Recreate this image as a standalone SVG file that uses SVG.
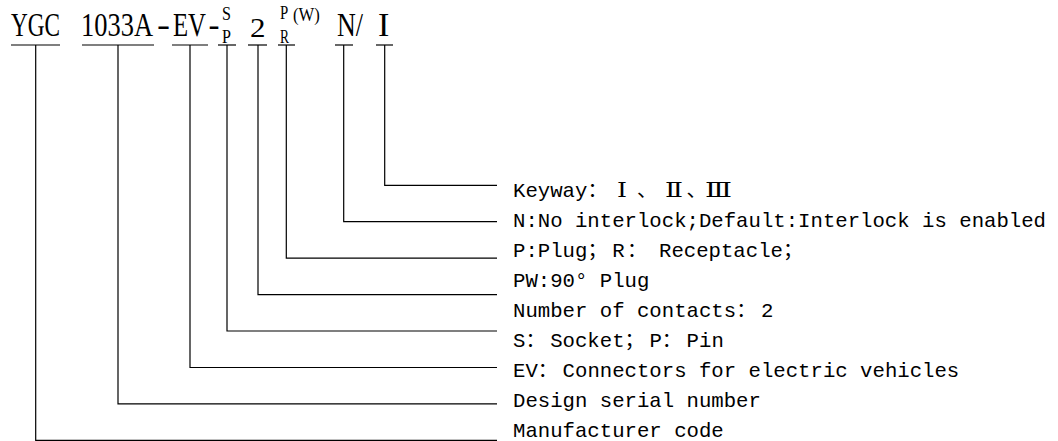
<svg xmlns="http://www.w3.org/2000/svg" width="1058" height="441" viewBox="0 0 1058 441">
<style>
.code{font-family:"Liberation Serif",serif;font-size:34px;fill:#000}
.sm{font-family:"Liberation Serif",serif;font-size:18.5px;fill:#000}
.lbl{font-family:"Liberation Mono",monospace;font-size:20.67px;fill:#000}
.cjk{font-family:"Noto Sans CJK SC",sans-serif;font-size:20px;fill:#000}
.rom{font-family:"Liberation Serif","DejaVu Serif","Noto Sans CJK SC",serif;font-size:20px;fill:#000}
.ul{stroke:#000;stroke-width:1.2;fill:none}
.con{stroke:#000;stroke-width:1.2;fill:none}
</style>
<rect width="1058" height="441" fill="#fff"/>
<g id="code-ygc">
<text class="code" transform="translate(11,36) scale(0.683,1)">YGC</text>
<line class="ul" x1="11" y1="45" x2="60" y2="45"/>
</g>
<g id="code-1033a">
<text class="code" transform="translate(81,36) scale(0.778,1)">1033A</text>
<line class="ul" x1="82" y1="45" x2="154" y2="45"/>
</g>
<g id="code-dash1"><text class="code" transform="translate(157,36) scale(1.15,1)">-</text></g>
<g id="code-ev">
<text class="code" transform="translate(173,36) scale(0.728,1)">EV</text>
<line class="ul" x1="172" y1="45" x2="208" y2="45"/>
</g>
<g id="code-dash2"><text class="code" transform="translate(208.5,36) scale(0.97,1)">-</text></g>
<g id="code-sp">
<text class="sm" transform="translate(222,20) scale(0.87,1)">S</text>
<text class="sm" transform="translate(222,42.5) scale(0.87,1)">P</text>
<line class="ul" x1="218" y1="45" x2="236" y2="45"/>
</g>
<g id="code-2">
<text class="code" transform="translate(250,37) scale(1.15,1)" style="font-size:27px">2</text>
<line class="ul" x1="248" y1="45" x2="267" y2="45"/>
</g>
<g id="code-pr">
<text class="sm" transform="translate(280,19) scale(0.8,1)">P</text>
<text class="sm" transform="translate(280,42.5) scale(0.73,1)">R</text>
<text class="sm" transform="translate(293,21) scale(0.9,1)">(W)</text>
<line class="ul" x1="278" y1="45" x2="295" y2="45"/>
</g>
<g id="code-n">
<text class="code" transform="translate(337,36) scale(0.765,1)">N/</text>
<line class="ul" x1="335" y1="45" x2="353" y2="45"/>
</g>
<g id="code-i">
<text class="code" x="378" y="36">I</text>
<line class="ul" x1="376" y1="45" x2="393" y2="45"/>
</g>
<g id="connectors">
<polyline class="con" points="384.7,45 384.7,185.3 497,185.3"/>
<polyline class="con" points="343.7,45 343.7,221.7 497,221.7"/>
<polyline class="con" points="286.3,45 286.3,258.2 497,258.2"/>
<polyline class="con" points="258,45 258,294.6 497,294.6"/>
<polyline class="con" points="227,45 227,331 497,331"/>
<polyline class="con" points="190,45 190,367.5 497,367.5"/>
<polyline class="con" points="118,45 118,403.9 497,403.9"/>
<polyline class="con" points="35.7,45 35.7,440.3 497,440.3"/>
</g>
<g id="label-keyway">
<text class="lbl" x="513" y="196.5">Keyway</text>
<text class="cjk" y="196.5"><tspan x="587.4">：</tspan><tspan x="637">、</tspan><tspan x="686.6">、</tspan></text>
<text class="rom" x="617" y="196.5" textLength="10" lengthAdjust="spacingAndGlyphs">Ⅰ</text>
<text class="rom" x="665" y="196.5" textLength="18" lengthAdjust="spacingAndGlyphs">Ⅱ</text>
<text class="rom" x="705" y="196.5" textLength="27" lengthAdjust="spacingAndGlyphs">Ⅲ</text>
</g>
<g id="label-interlock">
<text class="lbl" x="513" y="226.5">N:No interlock;Default:Interlock is enabled</text>
</g>
<g id="label-plug">
<text class="lbl" y="256.5"><tspan x="513">P:Plug</tspan><tspan x="612.2">R</tspan><tspan x="659">Receptacle</tspan></text>
<text class="cjk" y="256.5"><tspan x="587.4">；</tspan><tspan x="627">：</tspan><tspan x="783">；</tspan></text>
</g>
<g id="label-pw">
<text class="lbl" x="513" y="286.5">PW:90° Plug</text>
</g>
<g id="label-contacts">
<text class="lbl" y="316.5"><tspan x="513">Number of contacts</tspan><tspan x="761">2</tspan></text>
<text class="cjk" x="736.2" y="316.5">：</text>
</g>
<g id="label-socket">
<text class="lbl" y="346.5"><tspan x="513">S</tspan><tspan x="550.2">Socket</tspan><tspan x="649.4">P</tspan><tspan x="686.6">Pin</tspan></text>
<text class="cjk" y="346.5"><tspan x="525.4">：</tspan><tspan x="624.6">；</tspan><tspan x="661.8">：</tspan></text>
</g>
<g id="label-ev">
<text class="lbl" y="376.5"><tspan x="513">EV</tspan><tspan x="562.6">Connectors for electric vehicles</tspan></text>
<text class="cjk" x="537.8" y="376.5">：</text>
</g>
<g id="label-design">
<text class="lbl" x="513" y="406.5">Design serial number</text>
</g>
<g id="label-manufacturer">
<text class="lbl" x="513" y="436.5">Manufacturer code</text>
</g>
</svg>
